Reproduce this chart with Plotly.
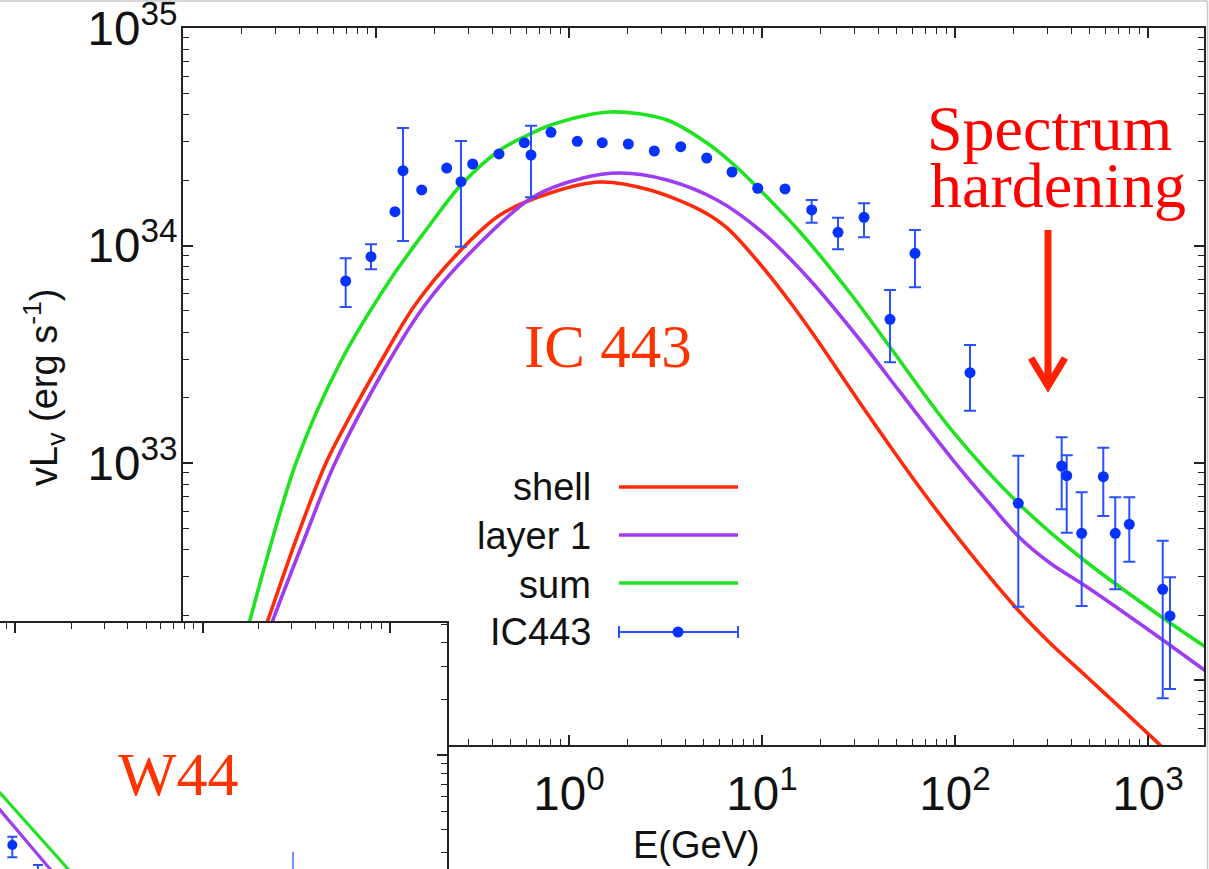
import plotly.graph_objects as go

W, H = 1209, 869

# ---------------- data ----------------
# model curves (E in GeV, nuL_nu in erg/s)
shell_E = [0.01973, 0.02756, 0.03850, 0.05506, 0.07599, 0.1049, 0.1593, 0.2756, 0.4391,
           0.7973, 1.447, 2.628, 4.773, 6.587, 9.763, 14.47, 19.98, 32.19, 65.88, 119.6,
           209.6, 310.6, 483.0, 1154, 1651]
shell_L = [8.135e31, 1.898e32, 4.428e32, 1.0e33, 1.735e33, 2.883e33, 5.326e33, 9.535e33, 1.381e34,
           1.743e34, 1.959e34, 1.800e34, 1.457e34, 1.204e34, 8.223e33, 5.270e33, 3.525e33, 1.888e33,
           7.677e32, 3.857e32, 2.132e32, 1.487e32, 1.038e32, 5.05e31, 3.677e31]

layer1_E = [0.02096, 0.02926, 0.04234, 0.06133, 0.1154, 0.1794, 0.2961, 0.6510, 1.182, 1.837,
            3.219, 5.846, 10.0, 17.73, 32.19, 51.88, 97.63, 151.8, 217.2, 310.6, 483.0, 1061, 2022]
layer1_L = [8.135e31, 1.898e32, 4.428e32, 1.0e33, 2.883e33, 5.326e33, 8.948e33, 1.671e34, 2.044e34,
            2.154e34, 2.000e34, 1.619e34, 1.154e34, 6.940e33, 3.677e33, 2.121e33, 1.032e33,
            6.479e32, 4.522e32, 3.469e32, 2.691e32, 1.653e32, 1.094e32]

sum_E = [0.01752, 0.02224, 0.03850, 0.06510, 0.1182, 0.1816, 0.2756, 0.4391, 0.5845, 0.8065,
         1.631, 3.219, 5.188, 6.992, 9.535, 15.73, 28.58, 46.05, 94.21, 212.1, 444.2, 1196, 2022]
sum_L = [8.135e31, 1.898e32, 1.0e33, 2.883e33, 6.940e33, 1.178e34, 1.898e34, 2.749e34, 3.154e34, 3.581e34,
         4.109e34, 3.776e34, 2.960e34, 2.395e34, 1.839e34, 1.154e34, 6.048e33, 3.415e33, 1.448e33,
         6.548e32, 3.697e32, 1.939e32, 1.411e32]

# IC443 data points (None = no error bar)
ic_E = [0.06966, 0.09421, 0.1254, 0.1380, 0.1725, 0.2325, 0.2756, 0.3170, 0.4338, 0.5867,
        0.6356, 0.8065, 1.104, 1.487, 2.029, 2.767, 3.792, 5.169, 6.992, 9.500,
        13.16, 18.09, 24.77, 33.77, 46.05, 62.04, 119.6, 212.8, 357.2, 379.2,
        453.3, 586.7, 676.9, 800.2, 1192, 1300]
ic_L = [6.866e33, 8.882e33, 1.430e34, 2.207e34, 1.800e34, 2.271e34, 1.965e34, 2.370e34, 2.635e34, 2.970e34,
        2.607e34, 3.315e34, 3.013e34, 2.970e34, 2.929e34, 2.719e34, 2.846e34, 2.525e34, 2.177e34, 1.833e34,
        1.819e34, 1.457e34, 1.150e34, 1.348e34, 4.579e33, 9.208e33, 2.601e33, 6.527e32, 9.687e32, 8.743e32,
        4.750e32, 8.650e32, 4.750e32, 5.226e32, 2.626e32, 1.980e32]
ic_hi = [8.734e33, 1.013e34, None, 3.469e34, None, None, 3.023e34, None, None, None,
         3.555e34, None, None, None, None, None, None, None, None, None,
         None, 1.619e34, 1.342e34, 1.563e34, 6.244e33, 1.178e34, 3.487e33, 1.080e33, 1.313e33, 1.085e33,
         7.334e32, 1.176e33, 6.955e32, 6.955e32, 4.394e32, 2.982e32]
ic_lo = [5.214e33, 7.775e33, None, 1.049e34, None, None, 9.874e33, None, None, None,
         1.666e34, None, None, None, None, None, None, None, None, None,
         None, 1.273e34, 9.605e33, 1.091e34, 2.904e33, 6.426e33, 1.740e33, 2.184e32, 6.125e32, 4.780e32,
         2.200e32, 5.706e32, 2.626e32, 3.517e32, 8.284e31, 9.139e31]

# W44 inset fragment
w44_sum_E = [0.05754, 0.08318, 0.1917, 0.2840]
w44_sum_L = [8.76e32, 6.28e32, 2.457e32, 1.481e32]
w44_layer_E = [0.05754, 0.08318, 0.1537, 0.2512]
w44_layer_L = [7.10e32, 5.09e32, 2.457e32, 1.392e32]
w44_E = [0.09674, 0.1326]
w44_L = [3.304e32, 2.145e32]
w44_hi = [3.660e32, 2.581e32]
w44_lo = [2.838e32, 1.783e32]
w44_bar_E = [3.039, 3.039]
w44_bar_L = [3.042e32, 1.675e32]

# tick labels
x_tick_alias = {"1": "10<sup>0</sup>", "10": "10<sup>1</sup>"}

# ---------------- styling ----------------
RED = "#ff2a0a"
PURPLE = "#9d3cf0"
GREEN = "#1fe31f"
BLUE = "#0532ff"
EBLUE = "#2a50ff"
AX = "#222222"
SANS = "Liberation Sans, Arial, Helvetica, sans-serif"
SERIF = "Liberation Serif, Times New Roman, serif"


def PX(x):
    return x / W


def PY(y):
    return 1 - y / H


fig = go.Figure()

for E, L, c in [(shell_E, shell_L, RED), (layer1_E, layer1_L, PURPLE), (sum_E, sum_L, GREEN)]:
    fig.add_trace(go.Scatter(x=E, y=L, mode="lines", line=dict(color=c, width=3.6, shape="spline", smoothing=0.9),
                             showlegend=False, hoverinfo="skip", xaxis="x", yaxis="y"))

idx_err = [i for i in range(len(ic_E)) if ic_hi[i] is not None]
idx_no = [i for i in range(len(ic_E)) if ic_hi[i] is None]
fig.add_trace(go.Scatter(
    x=[ic_E[i] for i in idx_err], y=[ic_L[i] for i in idx_err], mode="markers",
    marker=dict(color=BLUE, size=11),
    error_y=dict(type="data", symmetric=False,
                 array=[ic_hi[i] - ic_L[i] for i in idx_err],
                 arrayminus=[ic_L[i] - ic_lo[i] for i in idx_err],
                 color=EBLUE, thickness=2, width=6),
    showlegend=False, xaxis="x", yaxis="y"))
fig.add_trace(go.Scatter(
    x=[ic_E[i] for i in idx_no], y=[ic_L[i] for i in idx_no], mode="markers",
    marker=dict(color=BLUE, size=11), showlegend=False, xaxis="x", yaxis="y"))

# inset traces
fig.add_trace(go.Scatter(x=w44_sum_E, y=w44_sum_L, mode="lines", line=dict(color=GREEN, width=3.2),
                         showlegend=False, xaxis="x2", yaxis="y2"))
fig.add_trace(go.Scatter(x=w44_layer_E, y=w44_layer_L, mode="lines", line=dict(color=PURPLE, width=3.2),
                         showlegend=False, xaxis="x2", yaxis="y2"))
fig.add_trace(go.Scatter(
    x=w44_E, y=w44_L, mode="markers", marker=dict(color=BLUE, size=10),
    error_y=dict(type="data", symmetric=False,
                 array=[h - v for h, v in zip(w44_hi, w44_L)],
                 arrayminus=[v - l for v, l in zip(w44_L, w44_lo)],
                 color=EBLUE, thickness=2, width=5),
    showlegend=False, xaxis="x2", yaxis="y2"))
fig.add_trace(go.Scatter(x=w44_bar_E, y=w44_bar_L, mode="lines", line=dict(color="#5a72ff", width=1.6),
                         showlegend=False, xaxis="x2", yaxis="y2"))

axis_common = dict(type="log", showgrid=False, zeroline=False, showline=True, linecolor=AX, linewidth=2,
                   ticks="inside", ticklen=10, tickwidth=1.5, tickcolor=AX, dtick=1,
                   exponentformat="power", automargin=False, ticklabeloverflow="allow",
                   minor=dict(ticks="inside", ticklen=6, tickwidth=1.3, tickcolor=AX, dtick="D1", showgrid=False),
                   tickfont=dict(family=SANS, size=38, color="#111"))

fig.update_layout(
    width=W, height=H, margin=dict(l=0, r=0, t=0, b=0, pad=0, autoexpand=False),
    paper_bgcolor="white", plot_bgcolor="#ffffff",
    showlegend=False,
    xaxis=dict(axis_common, domain=[PX(183), PX(1204)], range=[-2, 3.2902], mirror="ticks",
               anchor="y", labelalias=x_tick_alias, ticklabelstandoff=8),
    yaxis=dict(axis_common, domain=[PY(745), PY(28)], range=[31.7034, 35], mirror="ticks",
               anchor="x", ticklabelstandoff=-4),
    xaxis2=dict(axis_common, domain=[0, PX(447)], range=[-1.08, 1.304], side="top", mirror=False,
                anchor="y2", showticklabels=False),
    yaxis2=dict(axis_common, domain=[0, PY(623)], range=[32.390, 33.709], side="right", mirror=False,
                anchor="x2", showticklabels=False),
)

ann = []
ann.append(dict(text="IC 443", x=PX(608), y=PY(346), font=dict(family=SERIF, size=61, color="#ff3300")))
ann.append(dict(text="Spectrum", x=PX(1049), y=PY(128), font=dict(family=SERIF, size=64, color="#ff0000")))
ann.append(dict(text="hardening", x=PX(1058), y=PY(185), font=dict(family=SERIF, size=64, color="#ff0000")))
ann.append(dict(text="W44", x=PX(178), y=PY(774), font=dict(family=SERIF, size=62, color="#ff3300")))
ann.append(dict(text="vL<sub>v</sub> (erg s<sup>-1</sup>)", x=PX(44), y=PY(388), textangle=-90,
                font=dict(family=SANS, size=38, color="#111")))
ann.append(dict(text="E(GeV)", x=PX(696), y=PY(845), font=dict(family=SANS, size=38, color="#111")))
for lab, yy in [("shell", 487), ("layer 1", 536), ("sum", 585), ("IC443", 632)]:
    ann.append(dict(text=lab, x=PX(593), y=PY(yy), xanchor="right",
                    font=dict(family=SANS, size=38, color="#111")))
for a in ann:
    a.setdefault("xanchor", "center")
    a.update(xref="paper", yref="paper", yanchor="middle", showarrow=False)
fig.update_layout(annotations=ann)

shapes = []
# legend samples
for c, yy in [(RED, 487), (PURPLE, 535), (GREEN, 583)]:
    shapes.append(dict(type="line", x0=PX(619), x1=PX(738), y0=PY(yy), y1=PY(yy), line=dict(color=c, width=3.6)))
shapes.append(dict(type="line", x0=PX(619), x1=PX(738), y0=PY(632), y1=PY(632), line=dict(color=EBLUE, width=2)))
for xx in (619, 738):
    shapes.append(dict(type="line", x0=PX(xx), x1=PX(xx), y0=PY(626), y1=PY(638), line=dict(color=EBLUE, width=2)))
shapes.append(dict(type="circle", x0=PX(672.5), x1=PX(683.5), y0=PY(626.5), y1=PY(637.5),
                   fillcolor=BLUE, line=dict(color=BLUE, width=0)))
# arrow
shapes.append(dict(type="line", x0=PX(1048), x1=PX(1048), y0=PY(230), y1=PY(382), line=dict(color="#ff2200", width=7)))
shapes.append(dict(type="path", path=f"M {PX(1031)},{PY(358)} L {PX(1048)},{PY(386)} L {PX(1065)},{PY(358)}",
                   line=dict(color="#ff2200", width=7)))
# light page border
shapes.append(dict(type="line", x0=0, x1=PX(1207.5), y0=PY(1), y1=PY(1), line=dict(color="#c8c8c8", width=1.5)))
shapes.append(dict(type="line", x0=PX(1207.5), x1=PX(1207.5), y0=PY(1), y1=0, line=dict(color="#c8c8c8", width=1.5)))
for s in shapes:
    s.update(xref="paper", yref="paper", layer="above")
fig.update_layout(shapes=shapes)

fig.write_html("out.html")
